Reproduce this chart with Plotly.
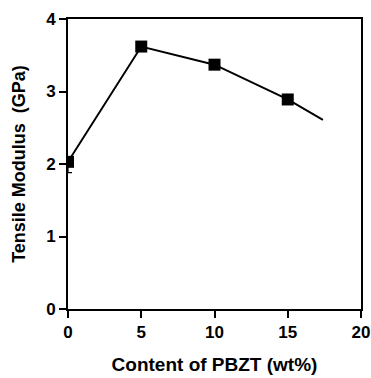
import plotly.graph_objects as go

content_wt = [0, 5, 10, 15]
modulus_gpa = [2.03, 3.62, 3.37, 2.89]
modulus_err_plus = [0.05, 0, 0, 0]
modulus_err_minus = [0.15, 0, 0, 0]
trend_x = [0, 5, 10, 15, 17.4]
trend_y = [2.03, 3.62, 3.37, 2.89, 2.61]
x_ticks = [0, 5, 10, 15, 20]
y_ticks = [0, 1, 2, 3, 4]

FONT = "Liberation Sans, Arial, sans-serif"

fig = go.Figure()
fig.add_trace(go.Scatter(x=trend_x, y=trend_y, mode="lines",
                         line=dict(color="black", width=2), showlegend=False))
fig.add_trace(go.Scatter(x=content_wt, y=modulus_gpa, mode="markers",
                         marker=dict(symbol="square", size=12, color="black"),
                         error_y=dict(type="data", symmetric=False,
                                      array=modulus_err_plus, arrayminus=modulus_err_minus,
                                      color="black", thickness=1.2, width=4),
                         showlegend=False))

font_tick = dict(family=FONT, size=17, color="black")
axis_common = dict(ticks="outside", ticklen=7, tickwidth=1.5, tickcolor="black",
                   showline=True, linecolor="black", linewidth=1.8, mirror=True,
                   showgrid=False, zeroline=False, tickfont=font_tick,
                   automargin=False, ticklabeloverflow="allow")
fig.update_layout(
    width=371, height=378,
    margin=dict(l=68, r=10, t=19, b=69),
    plot_bgcolor="white", paper_bgcolor="white",
    font=dict(family=FONT, color="black"),
    xaxis=dict(range=[0, 20], tickvals=x_ticks, ticktext=[f"<b>{v}</b>" for v in x_ticks],
               title=dict(text="<b>Content of PBZT (wt%)</b>",
                          font=dict(size=19, family=FONT), standoff=16),
               **axis_common),
    yaxis=dict(range=[0, 4], tickvals=y_ticks, ticktext=[f"<b>{v}</b>" for v in y_ticks],
               title=dict(text="<b>Tensile Modulus  (GPa)</b>",
                          font=dict(size=18, family=FONT), standoff=16),
               **axis_common),
)
fig.write_html("out.html", config={"displayModeBar": False},
               post_script="document.body.style.margin='0';document.body.style.overflow='hidden';")
